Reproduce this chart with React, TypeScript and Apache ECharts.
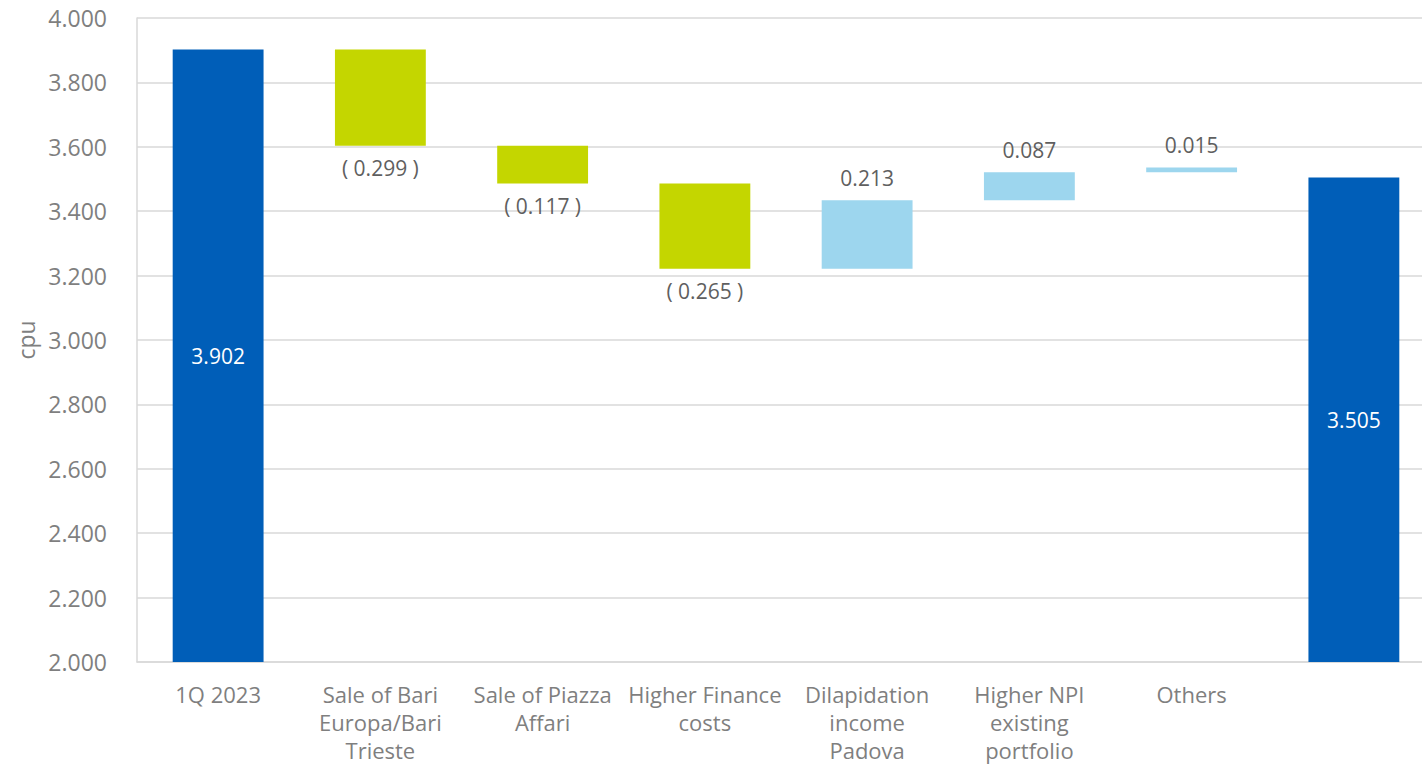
import React, { useEffect, useRef } from "react";
import * as echarts from "echarts";

const categories = [
  "1Q 2023",
  "Sale of Bari\nEuropa/Bari\nTrieste",
  "Sale of Piazza\nAffari",
  "Higher Finance\ncosts",
  "Dilapidation\nincome\nPadova",
  "Higher NPI\nexisting\nportfolio",
  "Others",
  "",
];
const startValue = 3.902;
const deltas = [-0.299, -0.117, -0.265, 0.213, 0.087, 0.015];
const endValue = 3.505;
const yMin = 2.0;
const yMax = 4.0;
const yInterval = 0.2;

const TOTAL_COLOR = "#005EB8";
const NEG_COLOR = "#C4D600";
const POS_COLOR = "#9DD6EE";
const LABEL_COLOR = "#5f5f5f";
const AXIS_TEXT = "#7f7f7f";
const GRID_COLOR = "#D9D9D9";
const FONT = "'Open Sans', Roboto, sans-serif";

export default function App() {
  const ref = useRef<HTMLDivElement>(null);
  useEffect(() => {
    if (!ref.current) return;
    const chart = echarts.init(ref.current, null, { renderer: "svg" });

    const baseData: any[] = [];
    const barData: any[] = [];
    baseData.push(yMin);
    barData.push({
      value: startValue - yMin,
      itemStyle: { color: TOTAL_COLOR },
      label: { show: true, position: "inside", color: "#ffffff", formatter: startValue.toFixed(3) },
    });
    let level = startValue;
    deltas.forEach((d) => {
      const next = level + d;
      const lo = Math.min(level, next);
      baseData.push(lo);
      barData.push({
        value: Math.abs(d),
        itemStyle: { color: d < 0 ? NEG_COLOR : POS_COLOR },
        label: {
          show: true,
          position: d < 0 ? "bottom" : "top",
          distance: 12,
          color: LABEL_COLOR,
          formatter: d < 0 ? `( ${Math.abs(d).toFixed(3)} )` : d.toFixed(3),
        },
      });
      level = next;
    });
    baseData.push(yMin);
    barData.push({
      value: endValue - yMin,
      itemStyle: { color: TOTAL_COLOR },
      label: { show: true, position: "inside", color: "#ffffff", formatter: endValue.toFixed(3) },
    });

    chart.setOption({
      animation: false,
      textStyle: { fontFamily: FONT },
      grid: { left: 137, right: 1, top: 18, bottom: 101, containLabel: false },
      xAxis: {
        type: "category",
        data: categories,
        axisTick: { show: false },
        axisLine: { show: true, lineStyle: { color: GRID_COLOR, width: 1.5 } },
        axisLabel: {
          interval: 0,
          color: AXIS_TEXT,
          fontSize: 22,
          lineHeight: 28,
          margin: 18,
          fontFamily: FONT,
        },
      },
      yAxis: {
        type: "value",
        min: yMin,
        max: yMax,
        interval: yInterval,
        name: "cpu",
        nameLocation: "middle",
        nameRotate: 90,
        nameGap: 98,
        nameTextStyle: { color: AXIS_TEXT, fontSize: 23, fontFamily: FONT },
        axisLine: { show: true, lineStyle: { color: GRID_COLOR, width: 1.5 } },
        axisTick: { show: false },
        splitLine: { show: true, lineStyle: { color: GRID_COLOR, width: 1.5 } },
        axisLabel: {
          color: AXIS_TEXT,
          fontSize: 23,
          margin: 30,
          fontFamily: FONT,
          formatter: (v: number) => v.toFixed(3),
        },
      },
      series: [
        {
          type: "bar",
          stack: "wf",
          data: baseData,
          itemStyle: { color: "transparent" },
          barWidth: "56%",
          silent: true,
        },
        {
          type: "bar",
          stack: "wf",
          data: barData,
          barWidth: "56%",
          label: { fontSize: 21, fontFamily: FONT },
        },
      ],
    });
    return () => chart.dispose();
  }, []);
  return (
    <div
      ref={ref}
      style={{ position: "fixed", left: 0, top: 0, width: 1436, height: 764, background: "#fff" }}
    />
  );
}
